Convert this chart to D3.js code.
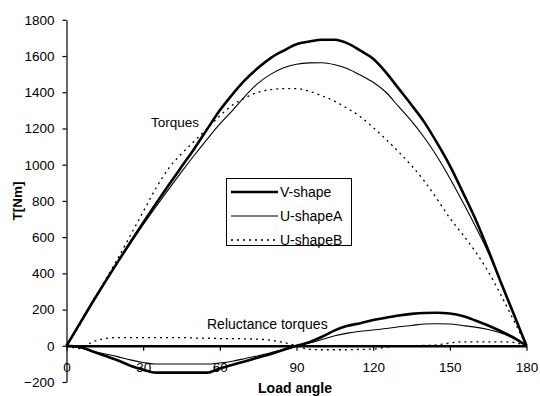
<!DOCTYPE html>
<html>
<head>
<meta charset="utf-8">
<script src="https://cdn.jsdelivr.net/npm/d3@7/dist/d3.min.js"></script>
<style>
  html, body { margin: 0; padding: 0; background: #fff; }
  svg { display: block; font-family: "Liberation Sans", Arial, sans-serif; }
</style>
</head>
<body>
<svg id="chart" width="540" height="396"></svg>
<script>
// ---- data ----
const angles = [0,5,10,15,20,25,30,35,40,45,50,55,60,65,70,75,80,85,90,95,100,105,110,115,120,125,130,135,140,145,150,155,160,165,170,175,180];

const vShape = [0,118,236,350,462,572,680,785,888,988,1088,1195,1300,1390,1470,1535,1590,1630,1665,1680,1690,1690,1670,1630,1585,1510,1420,1330,1235,1120,995,850,700,530,350,175,0];
const uShapeA = [0,118,236,350,460,565,668,768,865,960,1052,1140,1225,1300,1380,1450,1500,1535,1555,1562,1563,1552,1530,1495,1455,1400,1320,1240,1150,1045,925,795,660,515,345,172,0];
const uShapeB = [0,110,240,360,480,610,740,870,980,1060,1130,1200,1270,1330,1370,1400,1415,1420,1420,1405,1380,1350,1310,1265,1205,1140,1070,995,910,810,705,615,520,410,280,140,0];

const vShapeRel = [0,-5,-30,-55,-80,-110,-132,-148,-148,-148,-148,-148,-125,-105,-85,-65,-45,-22,0,20,50,85,110,125,142,155,167,176,181,182,178,165,140,112,80,45,0];
const uShapeARel = [0,-10,-30,-45,-60,-78,-92,-101,-101,-101,-101,-101,-95,-85,-70,-55,-38,-20,0,15,35,55,70,80,87,95,105,112,120,122,120,112,103,90,70,40,0];
const uShapeBRel = [0,-15,20,40,45,45,45,45,45,45,43,42,40,40,38,37,30,18,0,-20,-22,-22,-22,-20,-18,-8,0,0,2,5,15,22,22,22,22,18,0];

const xTicks = [0,30,60,90,120,150,180];
const yTicks = [-200,0,200,400,600,800,1000,1200,1400,1600,1800];
const seriesNames = ["V-shape","U-shapeA","U-shapeB"];

// ---- drawing ----
const svg = d3.select("#chart");
const x = d3.scaleLinear().domain([0,180]).range([66.5,526.5]);
const y = d3.scaleLinear().domain([-200,1800]).range([382,19.8]);

const styles = [
  {w: 2.6, dash: null},
  {w: 1.1, dash: null},
  {w: 1.3, dash: "2,4"}
];

// y axis
const gy = svg.append("g").attr("transform", `translate(${x(0)},0)`)
  .call(d3.axisLeft(y).tickValues(yTicks).tickFormat(d3.format("d")).tickSize(4).tickSizeOuter(0).tickPadding(8));
gy.selectAll("text").attr("font-size", 13.5).attr("fill", "#000").attr("font-family", "Liberation Sans, Arial, sans-serif");
gy.selectAll("line, path").attr("stroke", "#000").attr("stroke-width", 1.2);

// x axis at y=0
const gx = svg.append("g").attr("transform", `translate(0,${y(0)})`)
  .call(d3.axisBottom(x).tickValues(xTicks).tickFormat(d3.format("d")).tickSize(5).tickSizeOuter(0).tickPadding(12));
gx.selectAll("text").attr("font-size", 13.5).attr("fill", "#000").attr("font-family", "Liberation Sans, Arial, sans-serif");
gx.selectAll("line").attr("stroke", "#000").attr("stroke-width", 1.2);
gx.select("path.domain").attr("stroke", "#000").attr("stroke-width", 2.6);

const line = d3.line().x((d,i) => x(angles[i])).y(d => y(d)).curve(d3.curveMonotoneX);

const main = [vShape, uShapeA, uShapeB];
const rel = [vShapeRel, uShapeARel, uShapeBRel];
[main, rel].forEach(group => {
  group.forEach((s, k) => {
    svg.append("path").datum(s).attr("d", line)
      .attr("fill", "none").attr("stroke", "#000")
      .attr("stroke-width", styles[k].w)
      .attr("stroke-dasharray", styles[k].dash);
  });
});

// annotations
svg.append("text").attr("x", 151).attr("y", 127).attr("font-size", 13.5).text("Torques");
svg.append("text").attr("x", 207).attr("y", 329).attr("font-size", 14).text("Reluctance torques");

// axis titles
svg.append("text").attr("x", 295).attr("y", 393).attr("text-anchor", "middle")
  .attr("font-size", 14).attr("font-weight", "bold").text("Load angle");
svg.append("text").attr("transform", "translate(22,201) rotate(-90)").attr("text-anchor", "middle")
  .attr("font-size", 13.5).attr("font-weight", "bold").text("T[Nm]");

// legend
const lg = svg.append("g");
lg.append("rect").attr("x", 226.5).attr("y", 178.5).attr("width", 125).attr("height", 67)
  .attr("fill", "#fff").attr("stroke", "#000").attr("stroke-width", 1);
seriesNames.forEach((n, k) => {
  const yy = 192 + k * 24;
  lg.append("line").attr("x1", 231).attr("x2", 278).attr("y1", yy).attr("y2", yy)
    .attr("stroke", "#000").attr("stroke-width", styles[k].w).attr("stroke-dasharray", styles[k].dash);
  lg.append("text").attr("x", 280).attr("y", yy + 5).attr("font-size", 14).text(n);
});
</script>
</body>
</html>
